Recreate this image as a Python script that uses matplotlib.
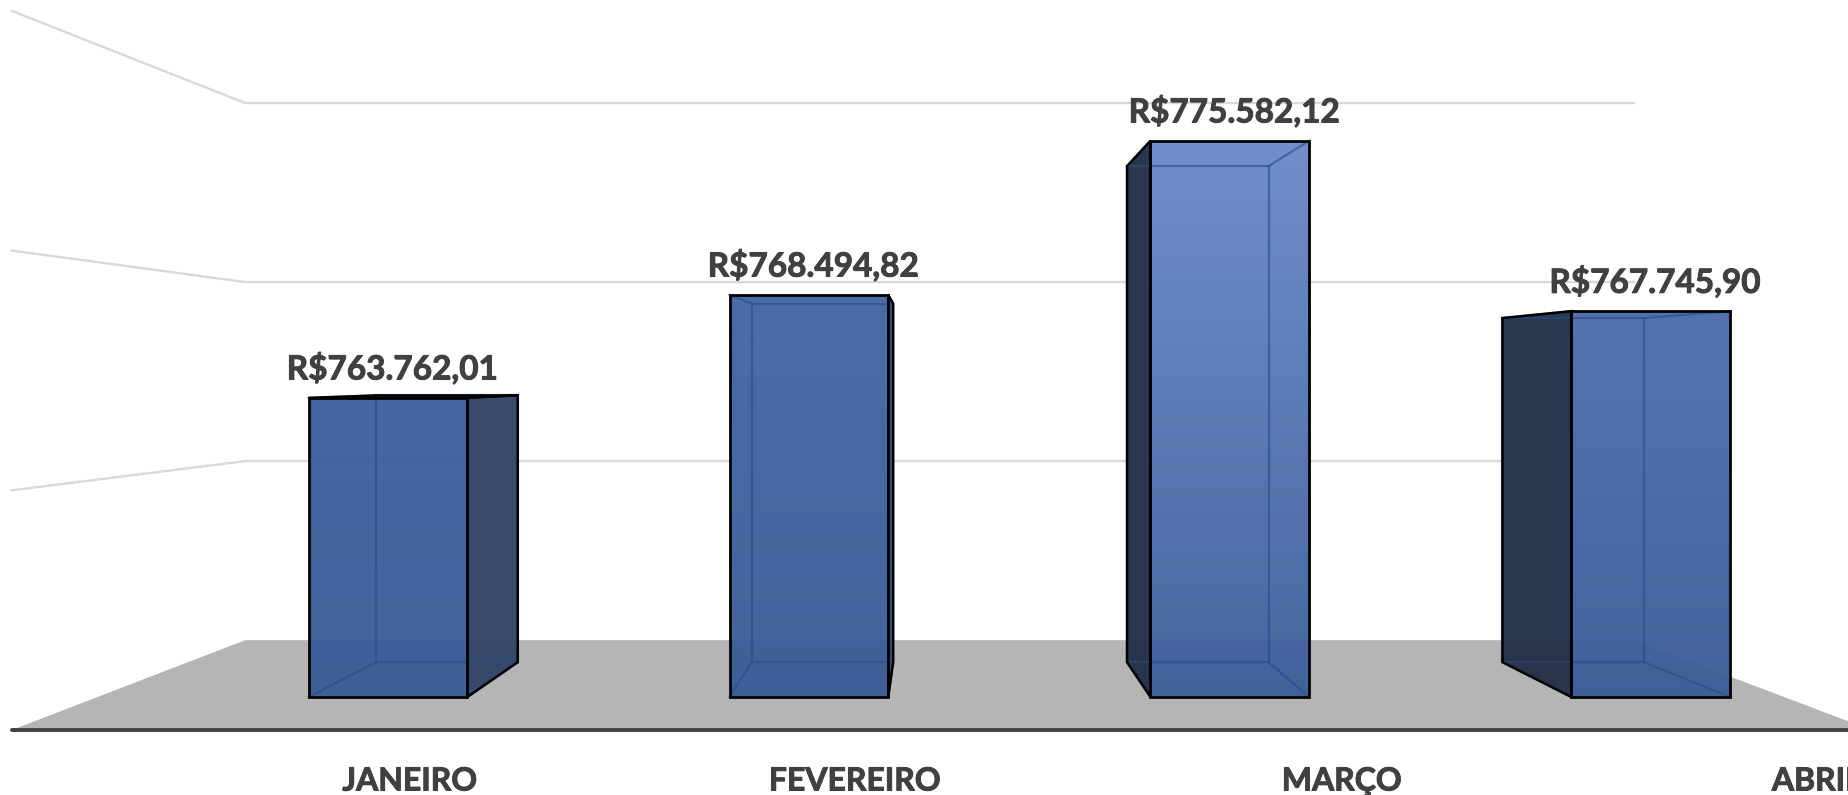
#!/usr/bin/env python3

import numpy as np
import matplotlib
matplotlib.use("Agg")
import matplotlib.pyplot as plt
import matplotlib.patheffects as pe
from matplotlib.colors import LinearSegmentedColormap
from matplotlib.patches import Polygon

plt.rcParams["font.family"] = ["Lato", "DejaVu Sans"]

#Chart data
months = ["JANEIRO", "FEVEREIRO", "MARÇO", "ABRIL"]
values = [763762.01, 768494.82, 775582.12, 767745.90]
value_labels = ["R$763.762,01", "R$768.494,82", "R$775.582,12", "R$767.745,90"]
grid_values = [750000, 760000, 770000, 780000]

#Colours of each bar
front_top = ["#3C5F9D", "#4265A3", "#6A8BC9", "#4B6DAB"]
front_bottom = "#3A5B98"
side_colors = ["#314669", "#334E7C", "#223049", "#223049"]

#Layout
month_px = [410, 855, 1342, 1817]
base = grid_values[0]
bar_width = 0.377
#Perspective scale of each depth plane, 1 is the front edge of the floor
bar_front = 0.907
bar_back = 0.907 * 0.892
wall = 0.747
vanish_x = 1.297
vanish_y = 764810
floor_left = -0.69
floor_right = 3.317
text_weight = [pe.withStroke(linewidth = 0.7, foreground = "#404040")]


#Projects a point at a given depth plane to the front plane
def project(x, y, s):
    return (vanish_x + s * (x - vanish_x), vanish_y + s * (y - vanish_y))


#Draws the front, side and inner edges of one bar
def draw_bar(ax, i, value, top_color, side_color):
    left = i - bar_width / 2
    right = i + bar_width / 2

    fbl = project(left, base, bar_front)
    fbr = project(right, base, bar_front)
    ftl = project(left, value, bar_front)
    ftr = project(right, value, bar_front)
    bbl = project(left, base, bar_back)
    bbr = project(right, base, bar_back)
    btl = project(left, value, bar_back)
    btr = project(right, value, bar_back)

    #Outer side of the bar, the one facing the vanishing point is hidden
    if i < vanish_x:
        side = [fbr, bbr, btr, ftr]
    else:
        side = [fbl, bbl, btl, ftl]
    ax.add_patch(Polygon(side, closed = True, facecolor = side_color, edgecolor = "none",
                         alpha = 0.97, zorder = 4))

    #Front face with vertical gradient
    cmap = LinearSegmentedColormap.from_list("bar", [front_bottom, top_color])
    grad = np.linspace(0, 1, 256).reshape(-1, 1)
    im = ax.imshow(grad, origin = "lower", aspect = "auto", cmap = cmap, alpha = 0.96, zorder = 5,
                   extent = (ftl[0], ftr[0], base, ftl[1]))
    clip = Polygon([fbl, fbr, ftr, ftl], closed = True, transform = ax.transData)
    im.set_clip_path(clip)

    #Back edges seen through the face
    edge = "#2A4A86"
    ax.plot([btl[0], btr[0], bbr[0], bbl[0], btl[0]], [btl[1], btr[1], bbr[1], bbl[1], btl[1]],
            color = edge, lw = 1.6, alpha = 0.6, zorder = 6)
    for a, b in [(fbl, bbl), (fbr, bbr), (ftl, btl), (ftr, btr)]:
        ax.plot([a[0], b[0]], [a[1], b[1]], color = edge, lw = 1.6, alpha = 0.6, zorder = 6)

    #Top face only shows on a bar below eye level
    if value < vanish_y:
        ax.add_patch(Polygon([ftl, ftr, btr, btl], closed = True, facecolor = side_color,
                             edgecolor = "black", linewidth = 1.6, zorder = 7))

    #Black outline
    ax.add_patch(Polygon(side, closed = True, fill = False, edgecolor = "black",
                         linewidth = 1.8, zorder = 7))
    ax.add_patch(Polygon([fbl, fbr, ftr, ftl], closed = True, fill = False, edgecolor = "black",
                         linewidth = 2.0, zorder = 7))


fig = plt.figure(figsize = (18.49, 7.95), dpi = 100)
ax = fig.add_axes([0, 0, 1, 1])
ax.axis("off")

#Floor
floor = [project(floor_left, base, 1), project(floor_right, base, 1),
         project(floor_right, base, wall), project(floor_left, base, wall)]
ax.add_patch(Polygon(floor, closed = True, facecolor = "#B5B5B5", edgecolor = "none", zorder = 1))

#Gridlines on the left and back walls
for g in grid_values[1:]:
    a = project(floor_left, g, 1)
    b = project(floor_left, g, wall)
    c = project(floor_right, g, wall)
    ax.plot([a[0], b[0], c[0]], [a[1], b[1], c[1]], color = "#D9D9D9", lw = 1.7, zorder = 2)

#Category axis line
ax.plot([floor_left, 4], [base, base], color = "#404040", lw = 2.8,
        solid_capstyle = "round", zorder = 3)

for i in range(len(values)):
    draw_bar(ax, i, values[i], front_top[i], side_colors[i])

    #Value labels above the front face
    x, y = project(i, values[i], bar_front)
    ax.annotate(value_labels[i], (x, y), xytext = (3, 21), textcoords = "offset points",
                ha = "center", va = "center", fontsize = 24, fontweight = "bold",
                color = "#404040", zorder = 8, path_effects = text_weight)

for i in range(len(months)):
    fig.text(month_px[i] / 1849, 1 - 781 / 795, months[i], ha = "center", va = "center",
             fontsize = 23, fontweight = "bold", color = "#404040", path_effects = text_weight)

#Limits match the 1849x795 canvas
ax.set_xlim(-0.7155, 3.269)
ax.set_ylim(747288, 780454)

fig.savefig("out.png", dpi = 100)
